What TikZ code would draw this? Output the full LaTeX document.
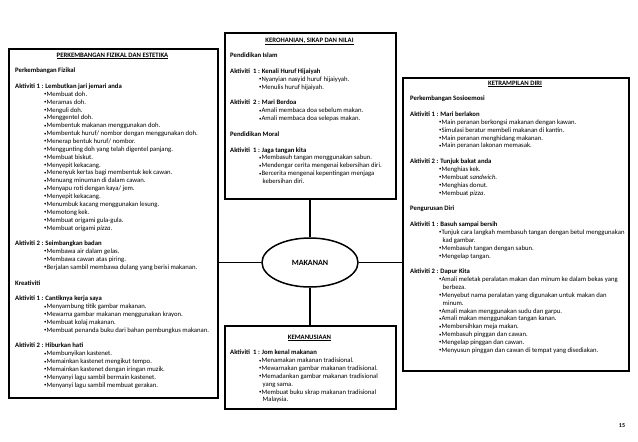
\documentclass[tikz,border=0pt]{standalone}
\usepackage{fontspec}
\setmainfont{Carlito}
\usetikzlibrary{shapes.geometric}
\newcommand\bfs{\fontsize{6.7}{7.86}\selectfont}
\newcommand\ind{\hspace*{29pt}\raisebox{0.6pt}{\fontsize{4.8}{5}\selectfont•}}
\newcommand\cnt{\hspace*{32.5pt}}
\newcommand\gp{\\[7.86pt]}
\tikzset{
  box/.style={draw, line width=1.8pt, rectangle, inner sep=0pt, anchor=north west},
  body/.style={anchor=north west, inner sep=0pt, align=left, font=\bfs},
  ttl/.style={anchor=base, inner sep=0pt, font=\bfs\bfseries},
  conn/.style={line width=1.5pt},
}
\begin{document}
\begin{tikzpicture}[x=1pt,y=-1pt]
\fill[white] (0,0) rectangle (638,442);
\useasboundingbox (0,0) rectangle (638,442);

% boxes
\node[box, minimum width=209pt, minimum height=349pt] (L) at (8,48) {};
\node[box, minimum width=171pt, minimum height=166pt] (K) at (224,32) {};
\node[box, minimum width=226pt, minimum height=293pt] (R) at (402,77) {};
\node[box, minimum width=171pt, minimum height=83pt] (M) at (224,325) {};
\node[draw, ellipse, line width=1.5pt, minimum width=96pt, minimum height=49pt, inner sep=0pt,
      font=\fontsize{8}{9}\selectfont\bfseries] (E) at (310,262.5) {MAKANAN};

% connectors
\draw[conn] (E.west) -- (E.west -| L.east);
\draw[conn] (E.east) -- (E.east -| R.west);
\draw[conn] (E.north) -- (E.north |- K.south);
\draw[conn] (E.south) -- (E.south |- M.north);

% titles
\node[ttl] (Lt) at (112.5,57) {\underline{PERKEMBANGAN FIZIKAL DAN ESTETIKA}};
\node[ttl] (Kt) at (309.5,42) {\underline{KEROHANIAN, SIKAP DAN NILAI}};
\node[ttl] (Rt) at (515,85) {\underline{KETRAMPILAN DIRI}};
\node[ttl] (Mt) at (309.5,339) {\underline{KEMANUSIAAN}};

% left body
\node[body] (Lb) at (15,67.1) {\strut\textbf{Perkembangan Fizikal}\gp
\textbf{Aktiviti 1 : Lembutkan jari jemari anda}\\
\ind Membuat doh.\\
\ind Meramas doh.\\
\ind Menguli doh.\\
\ind Menggentel doh.\\
\ind Membentuk makanan menggunakan doh.\\
\ind Membentuk huruf/ nombor dengan menggunakan doh.\\
\ind Menerap bentuk huruf/ nombor.\\
\ind Menggunting doh yang telah digentel panjang.\\
\ind Membuat biskut.\\
\ind Menyepit kekacang.\\
\ind Menenyuk kertas bagi membentuk kek cawan.\\
\ind Menuang minuman di dalam cawan.\\
\ind Menyapu roti dengan kaya/ jem.\\
\ind Menyepit kekacang.\\
\ind Menumbuk kacang menggunakan lesung.\\
\ind Memotong kek.\\
\ind Membuat origami gula-gula.\\
\ind Membuat origami \textit{pizza}.\gp
\textbf{Aktiviti 2 : Seimbangkan badan}\\
\ind Membawa air dalam gelas.\\
\ind Membawa cawan atas piring.\\
\ind Berjalan sambil membawa dulang yang berisi makanan.\gp
\textbf{Kreativiti}\gp
\textbf{Aktiviti 1 : Cantiknya kerja saya}\\
\ind Menyambung titik gambar makanan.\\
\ind Mewarna gambar makanan menggunakan krayon.\\
\ind Membuat kolaj makanan.\\
\ind Membuat penanda buku dari bahan pembungkus makanan.\gp
\textbf{Aktiviti 2 : Hiburkan hati}\\
\ind Membunyikan kastenet.\\
\ind Memainkan kastenet mengikut tempo.\\
\ind Memainkan kastenet dengan iringan muzik.\\
\ind Menyanyi lagu sambil bermain kastenet.\\
\ind Menyanyi lagu sambil membuat gerakan.};

% middle top body
\node[body] (Kb) at (230,52.1) {\strut\textbf{Pendidikan Islam}\gp
\textbf{Aktiviti~ 1 : Kenali Huruf Hijaiyah}\\
\ind Nyanyian nasyid huruf hijaiyyah.\\
\ind Menulis huruf hijaiyah.\gp
\textbf{Aktiviti~ 2 : Mari Berdoa}\\
\ind Amali membaca doa sebelum makan.\\
\ind Amali membaca doa selepas makan.\gp
\textbf{Pendidikan Moral}\gp
\textbf{Aktiviti~ 1 : Jaga tangan kita}\\
\ind Membasuh tangan menggunakan sabun.\\
\ind Mendengar cerita mengenai kebersihan diri.\\
\ind Bercerita mengenai kepentingan menjaga\\
\cnt kebersihan diri.};

% right body
\node[body] (Rb) at (410,95.1) {\strut\textbf{Perkembangan Sosioemosi}\gp
\textbf{Aktiviti 1 : Mari berlakon}\\
\ind Main peranan berkongsi makanan dengan kawan.\\
\ind Simulasi beratur membeli makanan di kantin.\\
\ind Main peranan menghidang makanan.\\
\ind Main peranan lakonan memasak.\gp
\textbf{Aktiviti 2 : Tunjuk bakat anda}\\
\ind Menghias kek.\\
\ind Membuat \textit{sandwich}.\\
\ind Menghias donut.\\
\ind Membuat \textit{pizza}.\gp
\textbf{Pengurusan Diri}\gp
\textbf{Aktiviti 1 : Basuh sampai bersih}\\
\ind Tunjuk cara langkah membasuh tangan dengan betul menggunakan\\
\cnt kad gambar.\\
\ind Membasuh tangan dengan sabun.\\
\ind Mengelap tangan.\gp
\textbf{Aktiviti 2 : Dapur Kita}\\
\ind Amali meletak peralatan makan dan minum ke dalam bekas yang\\
\cnt berbeza.\\
\ind Menyebut nama peralatan yang digunakan untuk makan dan\\
\cnt minum.\\
\ind Amali makan menggunakan sudu dan garpu.\\
\ind Amali makan menggunakan tangan kanan.\\
\ind Membersihkan meja makan.\\
\ind Membasuh pinggan dan cawan.\\
\ind Mengelap pinggan dan cawan.\\
\ind Menyusun pinggan dan cawan di tempat yang disediakan.};

% bottom body
\node[body] (Mb) at (230,349.1) {\strut\textbf{Aktiviti~ 1 : Jom kenal makanan}\\
\ind Menamakan makanan tradisional.\\
\ind Mewarnakan gambar makanan tradisional.\\
\ind Memadankan gambar makanan tradisional\\
\cnt yang sama.\\
\ind Membuat buku skrap makanan tradisional\\
\cnt Malaysia.};

\node[font=\fontsize{6}{7}\selectfont\bfseries, inner sep=0pt] (pg) at (622,426) {15};
\end{tikzpicture}
\end{document}
